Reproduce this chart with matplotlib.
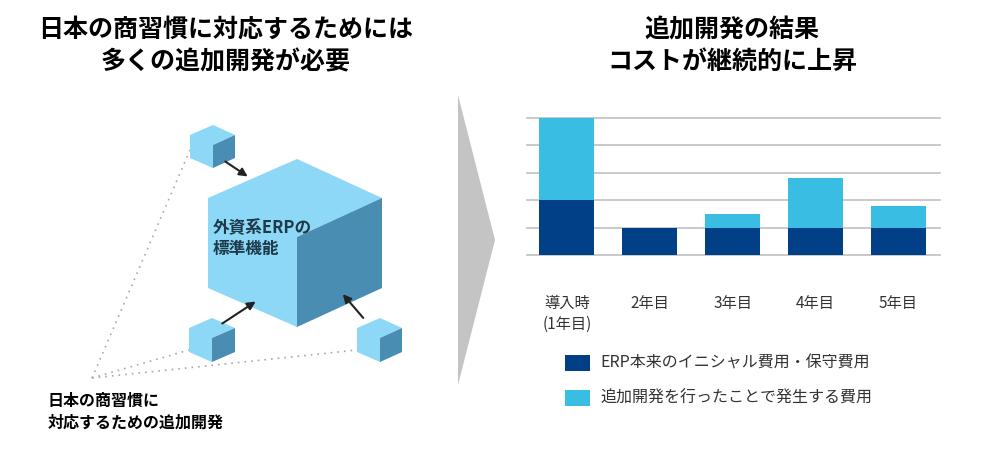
import matplotlib
matplotlib.use("Agg")
import matplotlib.pyplot as plt
from matplotlib.patches import Polygon, FancyArrowPatch

plt.rcParams['font.family'] = ['Noto Sans CJK JP', 'DejaVu Sans']

categories = ["導入時\n(1年目)", "2年目", "3年目", "4年目", "5年目"]
base_cost = [2, 1, 1, 1, 1]
extra_cost = [3, 0, 0.5, 1.8, 0.8]
legend_labels = ["ERP本来のイニシャル費用・保守費用", "追加開発を行ったことで発生する費用"]
DARK = "#013f86"
LIGHT = "#39bde2"

fig = plt.figure(figsize=(10, 4.72), dpi=100)
ov = fig.add_axes([0, 0, 1, 1])
ov.set_xlim(0, 1000); ov.set_ylim(472, 0); ov.axis("off")

# titles
ov.text(226, 30, "日本の商習慣に対応するためには", ha="center", va="center", fontsize=18, fontweight="bold")
ov.text(226, 62, "多くの追加開発が必要", ha="center", va="center", fontsize=18, fontweight="bold")
ov.text(732, 30, "追加開発の結果", ha="center", va="center", fontsize=18, fontweight="bold")
ov.text(732, 62, "コストが継続的に上昇", ha="center", va="center", fontsize=18, fontweight="bold")

# dotted lines
for (x, y) in [(190, 150), (189, 350), (357, 350)]:
    ov.plot([92, x], [378, y], color="#aaaaaa", lw=1.2, ls=(0, (1, 3)), zorder=1)

def cube(L, R, M, T, B, d, z=2):
    top_left = [(L, T + d), (M, T), (R, T + d), (M, T + 2 * d), (M, B), (L, B - d)]
    ov.add_patch(Polygon(top_left, closed=True, fc="#8dd8f6", ec="none", zorder=z))
    right = [(M, T + 2 * d), (R, T + d), (R, B - d), (M, B)]
    ov.add_patch(Polygon(right, closed=True, fc="#4a8db3", ec="none", zorder=z))

cube(208, 382, 297, 159, 327, 39)
cube(190, 235, 213, 125, 168, 10)
cube(189, 235, 212, 318, 362, 10)
cube(357, 402, 380, 318, 362, 10)

for (a, b) in [((223, 160), (250, 178)), ((220, 325), (258, 300)), ((365, 320), (341, 292))]:
    ov.add_patch(FancyArrowPatch(a, b, arrowstyle="-|>", mutation_scale=12, color="#222222", lw=1.5, zorder=5))

ov.text(213, 228, "外資系ERPの", ha="left", va="center", fontsize=12, fontweight="bold", color="#1e3a4a", zorder=6)
ov.text(213, 249, "標準機能", ha="left", va="center", fontsize=12, fontweight="bold", color="#1e3a4a", zorder=6)
ov.text(48, 401, "日本の商習慣に", ha="left", va="center", fontsize=11.5, fontweight="bold")
ov.text(48, 423, "対応するための追加開発", ha="left", va="center", fontsize=11.5, fontweight="bold")

# arrow triangle
ov.add_patch(Polygon([(458, 95), (495, 240), (458, 385)], closed=True, fc="#c4c4c4", ec="none"))

# bar chart
ax = fig.add_axes([527 / 1000, (472 - 255) / 472, 413 / 1000, 137 / 472])
x = list(range(len(categories)))
ax.bar(x, base_cost, width=0.66, color=DARK, zorder=3)
ax.bar(x, extra_cost, width=0.66, bottom=base_cost, color=LIGHT, zorder=3)
ax.set_xlim(-0.48, 4.5); ax.set_ylim(0, 5)
for v in range(0, 6):
    ax.axhline(v, color="#c0c0c0", lw=1.2, zorder=1, clip_on=False)
for s in ax.spines.values():
    s.set_visible(False)
ax.set_yticks([]); ax.set_xticks(x)
ax.set_xticklabels(categories, fontsize=11, color="#333333", va="top", linespacing=1.25)
ax.tick_params(axis="x", length=0, pad=29)

# legend
for i, (lab, col) in enumerate(zip(legend_labels, [DARK, LIGHT])):
    y = 363 + i * 35
    ov.add_patch(Polygon([(565, y - 8), (590, y - 8), (590, y + 8), (565, y + 8)], closed=True, fc=col, ec="none"))
    ov.text(600, y, lab, ha="left", va="center", fontsize=11.5, color="#333333")

fig.savefig("out.png", dpi=100)
